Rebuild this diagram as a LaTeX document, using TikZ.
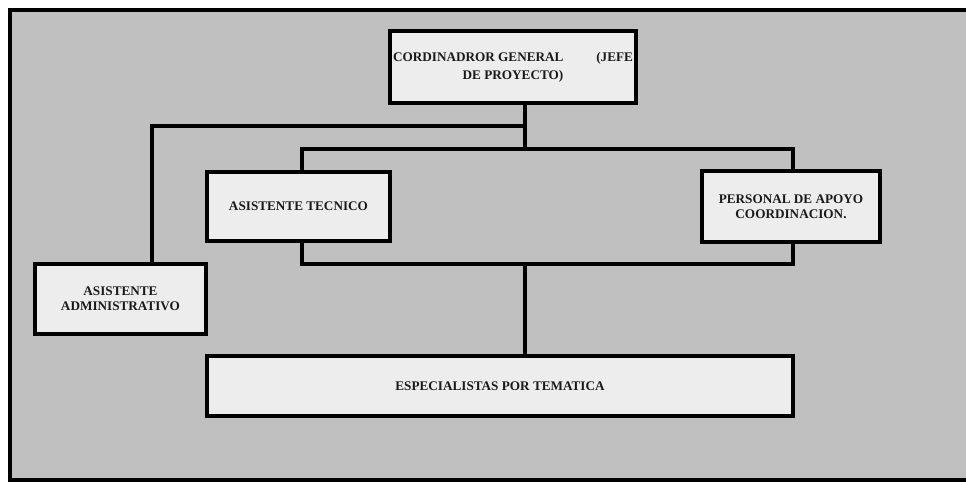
\documentclass[tikz,border=0pt]{standalone}
\usepackage{fontspec}
\setmainfont{Liberation Serif}
\definecolor{bggray}{HTML}{C0C0C0}
\definecolor{boxfill}{HTML}{EDEDED}
\definecolor{txt}{HTML}{1A1A1A}
\pgfdeclarelayer{framelayer}
\pgfdeclarelayer{connlayer}
\pgfsetlayers{framelayer,connlayer,main}
\begin{document}
\begin{tikzpicture}[x=0.75pt,y=-0.75pt,
  orgbox/.style={draw=black, line width=3pt, fill=boxfill, inner sep=0pt, align=center,
    text=txt, font=\fontsize{9.9}{11.5}\selectfont\bfseries},
  conn/.style={draw=black, line width=3pt, line join=miter}]
\useasboundingbox (0,0) rectangle (966,482);
\clip (0,0) rectangle (966,482);
\begin{pgfonlayer}{framelayer}
\fill[white] (0,0) rectangle (966,482);
\draw[line width=3pt, fill=bggray] (10,10) rectangle (990,480);
\end{pgfonlayer}

% connector points
\coordinate (hub) at (525,149);
\coordinate (lft) at (152,126);
\coordinate (brtl) at (302,149);
\coordinate (brbr) at (793,264);
\coordinate (bot) at (525,264);

% nodes
\node[orgbox, minimum width=184.5pt, minimum height=54pt,
  font=\fontsize{9.9}{13.5}\selectfont\bfseries] (coord) at (513,67)
  {\hbox to 180pt{CORDINADROR GENERAL\hfill(JEFE}\\DE PROYECTO)};
\node[orgbox, minimum width=137.25pt, minimum height=51.75pt] (tec) at (298.5,206.5) {ASISTENTE TECNICO};
\node[orgbox, minimum width=133.5pt, minimum height=53.25pt] (pers) at (791,206.5) {PERSONAL DE APOYO\\COORDINACION.};
\node[orgbox, minimum width=128.25pt, minimum height=52.5pt] (adm) at (120.5,299) {ASISTENTE\\ADMINISTRATIVO};
\node[orgbox, minimum width=439.5pt, minimum height=45pt] (esp) at (500,386) {ESPECIALISTAS POR TEMATICA};

% connectors (behind boxes)
\begin{pgfonlayer}{connlayer}
\draw[conn] (coord.south -| hub) -- (hub);
\draw[conn] (hub |- lft) -- (lft) -- (adm.north -| lft);
\draw[conn] (brtl) rectangle (brbr);
\draw[conn] (bot) -- (esp.north -| bot);
\end{pgfonlayer}
\end{tikzpicture}
\end{document}
